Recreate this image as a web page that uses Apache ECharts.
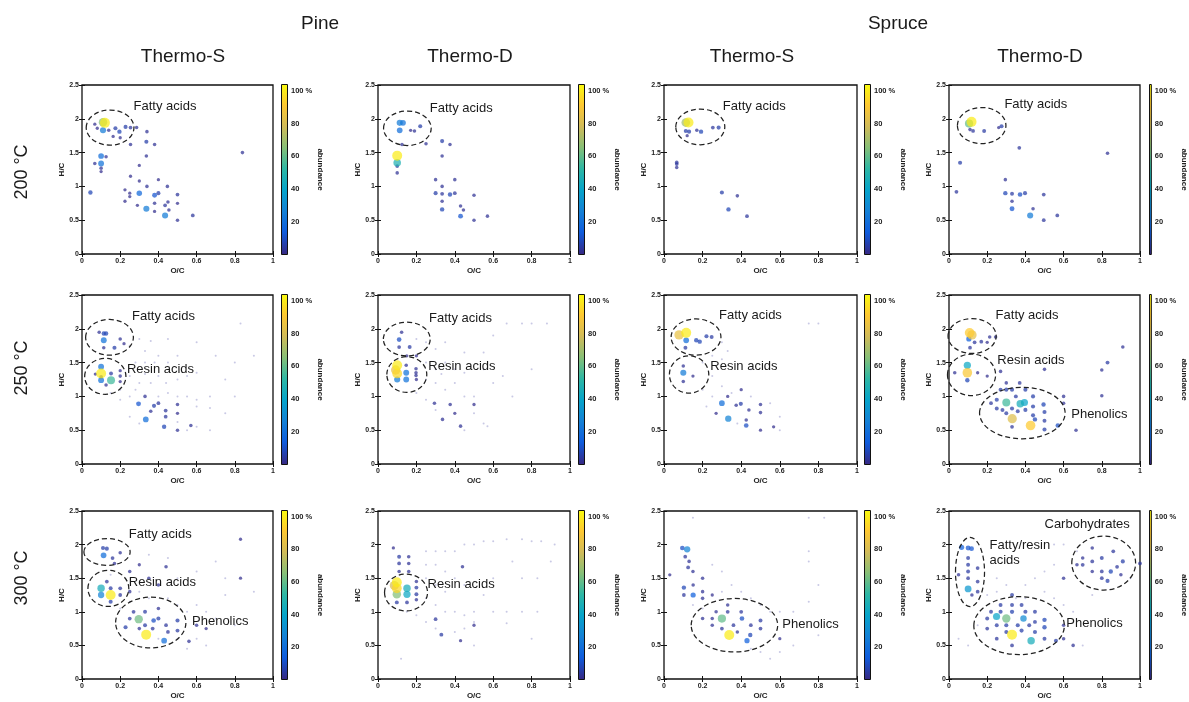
<!DOCTYPE html>
<html><head><meta charset="utf-8">
<script src="https://cdn.jsdelivr.net/npm/echarts@6/dist/echarts.min.js"></script>
<style>html,body{margin:0;padding:0;background:#fff}#c{width:1189px;height:702px}</style>
</head><body><div id="c"></div>
<script>
// ---------- labels ----------
const speciesNames = ['Pine', 'Spruce'];
const methodNames = ['Thermo-S', 'Thermo-D', 'Thermo-S', 'Thermo-D'];
const temperatureNames = ['200 °C', '250 °C', '300 °C'];
const colorbarTicks = [20, 40, 60, 80, 100];

// ---------- data: [O/C, H/C, abundance %] ----------
const pine200S = [[0.12,1.94,100],[0.11,1.95,65],[0.11,1.83,25],[0.175,1.86,6],[0.196,1.81,8],[0.228,1.88,6],[0.254,1.87,4],[0.286,1.87,3],[0.067,1.92,2],[0.08,1.86,2],[0.163,1.74,2],[0.14,1.83,3],[0.2,1.72,2],[0.34,1.81,3],[0.337,1.66,6],[0.38,1.62,3],[0.254,1.62,3],[0.337,1.45,3],[0.1,1.45,20],[0.1,1.34,22],[0.067,1.34,3],[0.126,1.44,3],[0.1,1.27,3],[0.1,1.22,2],[0.044,0.91,8],[0.254,1.15,2],[0.3,1.08,2],[0.3,1.31,2],[0.4,1.1,2],[0.3,0.9,18],[0.38,0.87,12],[0.4,0.9,6],[0.447,1.0,3],[0.34,1.0,3],[0.225,0.95,2],[0.25,0.9,2],[0.25,0.85,2],[0.5,0.88,4],[0.5,0.75,2],[0.5,0.5,3],[0.337,0.67,25],[0.38,0.75,3],[0.435,0.72,4],[0.45,0.77,3],[0.455,0.65,3],[0.435,0.57,25],[0.58,0.57,4],[0.84,1.5,3],[0.29,0.72,2],[0.225,0.78,2],[0.38,0.63,2]];
const pine200D = [[0.1,1.455,100],[0.1,1.35,48],[0.1,1.2,3],[0.1,1.3,4],[0.113,1.94,25],[0.13,1.94,22],[0.113,1.83,20],[0.22,1.89,6],[0.19,1.82,3],[0.17,1.83,2],[0.125,1.62,3],[0.25,1.63,3],[0.334,1.67,6],[0.375,1.62,3],[0.334,1.45,3],[0.3,1.1,3],[0.4,1.1,3],[0.334,1.0,3],[0.3,0.9,6],[0.334,0.89,4],[0.375,0.88,8],[0.4,0.9,4],[0.5,0.87,3],[0.334,0.78,3],[0.334,0.66,8],[0.43,0.71,3],[0.445,0.65,3],[0.43,0.56,12],[0.5,0.5,3],[0.57,0.56,3]];
const spruce200S = [[0.127,1.945,100],[0.113,1.945,70],[0.113,1.82,6],[0.13,1.81,6],[0.192,1.81,8],[0.17,1.83,3],[0.253,1.87,4],[0.283,1.87,6],[0.12,1.75,2],[0.066,1.355,4],[0.066,1.33,4],[0.066,1.28,3],[0.3,0.91,6],[0.38,0.86,3],[0.334,0.66,8],[0.43,0.56,4]];
const spruce200D = [[0.118,1.955,100],[0.105,1.93,60],[0.11,1.84,3],[0.126,1.82,4],[0.184,1.82,5],[0.275,1.89,6],[0.26,1.87,2],[0.058,1.35,6],[0.368,1.57,4],[0.039,0.92,4],[0.295,1.1,3],[0.295,0.9,8],[0.33,0.89,5],[0.372,0.88,10],[0.398,0.9,6],[0.496,0.88,4],[0.33,0.78,3],[0.33,0.67,12],[0.44,0.67,3],[0.425,0.57,25],[0.496,0.5,4],[0.567,0.57,4],[0.83,1.49,3]];

const pine250S = [[0.1,1.34,100],[0.152,1.24,55],[0.1,1.44,22],[0.1,1.24,22],[0.1,1.29,4],[0.152,1.34,5],[0.126,1.17,3],[0.07,1.33,2],[0.2,1.3,3],[0.2,1.22,2],[0.2,1.38,2],[0.114,1.83,22],[0.114,1.93,8],[0.126,1.93,8],[0.09,1.95,3],[0.17,1.72,6],[0.114,1.72,3],[0.2,1.85,3],[0.22,1.78,2],[0.296,0.89,12],[0.334,0.66,20],[0.377,0.86,6],[0.4,0.9,4],[0.438,0.79,4],[0.438,0.7,4],[0.43,0.55,8],[0.5,0.88,3],[0.5,0.75,2],[0.5,0.5,3],[0.57,0.57,3],[0.33,1.0,3],[0.36,0.78,3]];
const pine250STrace = [[0.25,1.75],[0.3,1.85],[0.33,1.67],[0.36,1.82],[0.4,1.6],[0.45,1.85],[0.28,1.5],[0.33,1.5],[0.38,1.5],[0.45,1.5],[0.5,1.6],[0.25,1.3],[0.3,1.2],[0.33,1.33],[0.36,1.2],[0.4,1.3],[0.44,1.2],[0.5,1.25],[0.55,1.3],[0.6,1.35],[0.25,1.0],[0.28,1.1],[0.4,1.0],[0.45,1.05],[0.5,1.0],[0.55,1.0],[0.6,0.95],[0.67,1.0],[0.6,0.85],[0.67,0.83],[0.25,0.7],[0.3,0.6],[0.5,0.62],[0.55,0.5],[0.6,0.55],[0.67,0.5],[0.75,0.75],[0.8,1.0],[0.8,1.5],[0.75,1.25],[0.83,2.08],[0.9,1.6],[0.7,1.6],[0.6,1.8],[0.2,1.1],[0.15,1.05],[0.2,0.95]];
const pine250D = [[0.1,1.46,100],[0.1,1.34,95],[0.092,1.39,85],[0.1,1.25,25],[0.147,1.35,22],[0.147,1.25,22],[0.11,1.84,10],[0.123,1.95,3],[0.11,1.73,4],[0.165,1.73,5],[0.198,1.41,3],[0.198,1.35,3],[0.198,1.31,3],[0.147,1.46,3],[0.2,1.25,2],[0.294,0.9,3],[0.376,0.88,3],[0.336,0.66,3],[0.43,0.56,3],[0.5,0.88,2],[0.15,1.6,2],[0.2,1.6,2],[0.4,0.75,2]];
const pine250DTrace = [[0.25,1.5],[0.3,1.4],[0.33,1.33],[0.4,1.4],[0.25,1.25],[0.3,1.2],[0.35,1.1],[0.4,1.2],[0.45,1.0],[0.5,1.0],[0.5,0.75],[0.55,0.6],[0.3,1.7],[0.35,1.8],[0.45,1.65],[0.55,1.65],[0.67,2.08],[0.75,2.08],[0.8,2.08],[0.88,2.08],[0.6,1.9],[0.8,1.4],[0.7,1.0],[0.6,1.2],[0.2,1.05],[0.25,0.95],[0.3,0.8],[0.45,0.5],[0.57,0.56],[0.2,1.85],[0.25,1.8],[0.35,1.5],[0.45,1.35],[0.55,1.4],[0.65,1.3]];
const spruce250S = [[0.115,1.94,100],[0.078,1.91,85],[0.115,1.83,20],[0.167,1.83,8],[0.185,1.81,8],[0.22,1.89,6],[0.247,1.88,5],[0.111,1.72,5],[0.1,1.35,25],[0.1,1.45,3],[0.1,1.22,3],[0.15,1.3,2],[0.3,0.9,20],[0.333,0.67,28],[0.374,0.87,3],[0.398,0.89,6],[0.426,0.65,3],[0.426,0.57,10],[0.5,0.88,3],[0.5,0.76,3],[0.568,0.55,2],[0.33,1.0,2],[0.44,0.8,3],[0.4,1.1,2],[0.5,0.5,2],[0.27,0.75,2]];
const spruce250STrace = [[0.25,1.3],[0.3,1.15],[0.35,1.05],[0.25,1.0],[0.2,1.1],[0.45,1.0],[0.55,0.9],[0.6,0.7],[0.22,0.85],[0.3,1.55],[0.33,1.67],[0.45,1.4],[0.75,2.08],[0.8,2.08],[0.3,1.8],[0.25,1.6],[0.2,1.5],[0.6,0.5],[0.38,0.6]];
const spruce250D = [[0.108,1.94,92],[0.12,1.91,85],[0.104,1.85,15],[0.134,1.8,4],[0.169,1.81,4],[0.213,1.88,3],[0.244,1.88,3],[0.11,1.72,4],[0.2,1.8,2],[0.096,1.46,42],[0.096,1.35,90],[0.096,1.24,8],[0.15,1.35,2],[0.2,1.3,2],[0.03,1.35,3],[0.3,0.91,55],[0.373,0.89,45],[0.395,0.91,40],[0.331,0.67,82],[0.427,0.57,92],[0.495,0.88,8],[0.5,0.77,6],[0.5,0.64,5],[0.5,0.51,6],[0.57,0.57,10],[0.25,0.95,6],[0.27,1.1,5],[0.3,1.1,6],[0.33,1.1,6],[0.4,1.1,6],[0.35,1.0,5],[0.44,1.0,6],[0.25,0.82,5],[0.28,0.8,5],[0.33,0.82,6],[0.36,0.78,5],[0.4,0.8,6],[0.44,0.85,6],[0.44,0.72,6],[0.45,0.66,8],[0.3,0.75,5],[0.22,0.9,4],[0.33,0.55,4],[0.37,1.2,4],[0.3,1.2,3],[0.6,1.0,3],[0.6,0.9,3],[0.83,1.5,5],[0.8,1.39,3],[0.8,1.01,3],[0.91,1.73,3],[0.665,0.5,3],[0.5,1.4,3],[0.27,1.37,3]];

const pine300S = [[0.15,1.25,100],[0.1,1.35,45],[0.1,1.25,28],[0.113,1.84,20],[0.11,1.95,6],[0.13,1.94,6],[0.16,1.8,4],[0.17,1.72,3],[0.2,1.88,3],[0.13,1.45,4],[0.15,1.35,5],[0.2,1.35,4],[0.2,1.25,4],[0.15,1.15,6],[0.25,1.3,3],[0.297,0.89,62],[0.336,0.66,100],[0.43,0.57,20],[0.375,0.87,10],[0.4,0.9,6],[0.228,0.77,6],[0.5,0.87,6],[0.5,0.72,5],[0.33,1.0,5],[0.27,1.0,4],[0.25,0.9,4],[0.33,0.8,5],[0.37,0.75,4],[0.44,0.8,4],[0.4,1.05,3],[0.45,0.7,4],[0.3,0.75,3],[0.44,1.67,3],[0.35,1.5,3],[0.4,1.4,3],[0.56,0.56,3],[0.6,0.8,3],[0.65,0.75,2],[0.83,1.5,2],[0.83,2.08,2],[0.25,1.6,3],[0.3,1.7,2]];
const pine300STrace = [[0.3,1.3],[0.35,1.2],[0.25,1.15],[0.45,1.2],[0.5,1.1],[0.55,1.0],[0.6,1.1],[0.65,1.0],[0.7,0.9],[0.6,0.6],[0.65,0.5],[0.75,1.25],[0.75,1.5],[0.7,1.75],[0.6,1.6],[0.5,1.5],[0.45,1.8],[0.35,1.85],[0.5,0.6],[0.55,0.45],[0.2,1.05],[0.15,1.55],[0.4,0.6],[0.8,0.8],[0.9,1.3]];
const pine300D = [[0.098,1.44,100],[0.098,1.35,95],[0.098,1.26,65],[0.085,1.39,80],[0.151,1.35,45],[0.151,1.26,42],[0.151,1.14,4],[0.098,1.14,5],[0.11,1.82,5],[0.11,1.72,4],[0.11,1.6,3],[0.16,1.82,3],[0.16,1.72,3],[0.16,1.6,3],[0.2,1.36,5],[0.2,1.26,5],[0.2,1.18,3],[0.2,1.45,3],[0.3,0.89,4],[0.33,0.66,5],[0.44,1.67,3],[0.08,1.95,2],[0.5,0.8,2],[0.43,0.57,2]];
const pine300DTrace = [[0.25,1.9],[0.3,1.9],[0.35,1.9],[0.4,1.9],[0.45,2.0],[0.5,2.0],[0.55,2.05],[0.6,2.05],[0.67,2.08],[0.75,2.08],[0.8,2.05],[0.85,2.05],[0.92,2.0],[0.25,1.7],[0.3,1.7],[0.35,1.6],[0.4,1.5],[0.25,1.5],[0.3,1.4],[0.35,1.3],[0.25,1.2],[0.3,1.1],[0.35,1.0],[0.4,1.0],[0.45,0.95],[0.5,1.0],[0.5,0.85],[0.45,0.75],[0.4,0.7],[0.3,0.75],[0.25,0.85],[0.2,0.95],[0.15,1.0],[0.6,1.5],[0.75,1.5],[0.83,1.5],[0.6,1.0],[0.67,1.0],[0.75,1.0],[0.83,1.0],[0.67,0.83],[0.8,0.6],[0.5,0.5],[0.55,1.25],[0.45,1.4],[0.7,1.75],[0.9,1.75],[0.12,0.3]];
const spruce300S = [[0.12,1.93,28],[0.095,1.95,10],[0.11,1.82,4],[0.13,1.75,3],[0.125,1.66,4],[0.15,1.6,3],[0.103,1.36,8],[0.103,1.25,4],[0.151,1.25,15],[0.151,1.4,3],[0.2,1.5,3],[0.2,1.3,3],[0.2,1.2,3],[0.25,1.25,2],[0.338,0.655,100],[0.3,0.9,60],[0.404,0.9,10],[0.447,0.655,8],[0.43,0.57,15],[0.5,0.87,5],[0.5,0.75,4],[0.33,1.0,4],[0.27,1.0,3],[0.25,0.9,3],[0.36,0.8,4],[0.3,0.75,4],[0.38,0.7,3],[0.45,0.8,4],[0.4,1.0,4],[0.25,0.8,3],[0.2,0.9,3],[0.33,1.1,3],[0.6,0.6,2],[0.03,1.55,2]];
const spruce300STrace = [[0.25,1.7],[0.3,1.6],[0.35,1.4],[0.4,1.3],[0.45,1.2],[0.5,1.1],[0.55,1.0],[0.6,1.0],[0.67,1.0],[0.75,1.15],[0.8,1.4],[0.75,1.75],[0.75,1.9],[0.6,0.4],[0.67,0.5],[0.8,0.65],[0.5,0.4],[0.45,0.45],[0.55,0.3],[0.75,2.4],[0.83,2.4],[0.15,2.4],[0.3,1.3],[0.2,1.05],[0.15,1.1]];
const spruce300D = [[0.33,0.66,100],[0.3,0.9,62],[0.249,0.93,40],[0.39,0.9,30],[0.43,0.57,45],[0.1,1.34,35],[0.066,1.96,15],[0.1,1.95,12],[0.118,1.94,12],[0.1,1.8,5],[0.1,1.7,5],[0.1,1.6,5],[0.1,1.5,4],[0.15,1.65,4],[0.15,1.45,4],[0.15,1.3,4],[0.12,1.25,3],[0.05,1.55,3],[0.5,0.88,8],[0.5,0.77,8],[0.5,0.6,5],[0.56,0.57,6],[0.33,1.25,5],[0.33,1.1,5],[0.33,1.0,7],[0.27,1.0,6],[0.4,1.0,6],[0.22,1.0,5],[0.45,1.0,5],[0.2,0.9,5],[0.25,0.8,5],[0.3,0.8,6],[0.36,0.8,6],[0.42,0.8,5],[0.3,0.7,5],[0.38,0.72,6],[0.45,0.7,6],[0.27,1.1,5],[0.38,1.1,5],[0.25,0.6,4],[0.2,0.75,4],[0.33,0.5,4],[0.45,0.85,5],[0.6,0.8,3],[0.6,0.6,3],[0.65,0.5,3],[0.847,1.6,8],[0.83,1.46,6],[0.91,1.75,6],[0.8,1.8,5],[0.75,1.75,4],[0.7,1.7,4],[0.86,1.9,4],[0.8,1.6,4],[0.75,1.6,3],[0.8,1.5,4],[0.88,1.67,4],[0.7,1.8,3],[0.67,1.7,3],[0.9,1.55,3],[0.75,1.95,3],[1.0,1.72,4],[0.6,1.5,3]];
const spruce300DTrace = [[0.25,1.5],[0.3,1.4],[0.4,1.4],[0.45,1.5],[0.5,1.3],[0.55,1.2],[0.6,1.1],[0.65,1.0],[0.5,1.6],[0.55,1.7],[0.2,1.25],[0.25,1.3],[0.15,0.8],[0.05,0.6],[0.1,0.5],[0.7,0.5],[0.55,2.0],[0.6,2.0],[0.67,1.9],[0.95,1.5],[0.75,1.25],[0.4,1.2],[0.35,1.2]];

// ---------- annotations: ellipses [cx, cy, rx, ry] and labels [x, y, text] ----------
const ell200 = [[[0.147,1.87,0.125,0.26]],[[0.153,1.86,0.124,0.255]],[[0.188,1.88,0.127,0.264]],[[0.171,1.90,0.127,0.267]]];
const lab200 = [[[0.27,2.18,'Fatty acids']],[[0.27,2.16,'Fatty acids']],[[0.305,2.19,'Fatty acids']],[[0.29,2.22,'Fatty acids']]];
const ell250 = [[[0.144,1.874,0.125,0.264],[0.122,1.296,0.108,0.266]],[[0.15,1.848,0.122,0.25],[0.15,1.323,0.104,0.264]],[[0.166,1.878,0.129,0.268],[0.13,1.324,0.102,0.276]],[[0.121,1.893,0.126,0.258],[0.118,1.319,0.126,0.307],[0.384,0.754,0.224,0.381]]];
const lab250 = [[[0.262,2.19,'Fatty acids'],[0.235,1.40,'Resin acids']],[[0.266,2.15,'Fatty acids'],[0.262,1.44,'Resin acids']],[[0.285,2.2,'Fatty acids'],[0.24,1.45,'Resin acids']],[[0.244,2.2,'Fatty acids'],[0.253,1.53,'Resin acids'],[0.64,0.74,'Phenolics']]];
const ell300 = [[[0.131,1.89,0.121,0.199],[0.138,1.348,0.107,0.269],[0.36,0.84,0.184,0.378]],[[0.146,1.287,0.112,0.274]],[[0.365,0.80,0.224,0.398]],[[0.11,1.593,0.076,0.515],[0.81,1.725,0.167,0.402],[0.367,0.794,0.237,0.431]]];
const lab300 = [[[0.245,2.15,'Fatty acids'],[0.245,1.44,'Resin acids'],[0.576,0.856,'Phenolics']],[[0.258,1.40,'Resin acids']],[[0.613,0.81,'Phenolics']],[[0.5,2.3,'Carbohydrates'],[0.212,1.995,'Fatty/resin'],[0.212,1.76,'acids'],[0.614,0.83,'Phenolics']]];

// ---------- layout & style ----------
const PARULA = ['#352a87','#0f5cdd','#1481d6','#06a4ca','#2eb7a4','#87bf77','#d1bb59','#fec832','#f9fb0e'];
const AB_MIN = 1, AB_MAX = 104;
const FONT = '"Liberation Sans", Arial, sans-serif';
const colLeft = [82, 378, 664, 949], colW = [191, 192, 193, 191], cbGap = [8, 8, 7, 9];
const rowTop = [85, 295, 511], rowH = [169, 169, 168];

const panels = [
  {main: pine200S, trace: [], ell: ell200[0], lab: lab200[0]},
  {main: pine200D, trace: [], ell: ell200[1], lab: lab200[1]},
  {main: spruce200S, trace: [], ell: ell200[2], lab: lab200[2]},
  {main: spruce200D, trace: [], ell: ell200[3], lab: lab200[3]},
  {main: pine250S, trace: pine250STrace, ell: ell250[0], lab: lab250[0]},
  {main: pine250D, trace: pine250DTrace, ell: ell250[1], lab: lab250[1]},
  {main: spruce250S, trace: spruce250STrace, ell: ell250[2], lab: lab250[2]},
  {main: spruce250D, trace: [], ell: ell250[3], lab: lab250[3]},
  {main: pine300S, trace: pine300STrace, ell: ell300[0], lab: lab300[0]},
  {main: pine300D, trace: pine300DTrace, ell: ell300[1], lab: lab300[1]},
  {main: spruce300S, trace: spruce300STrace, ell: ell300[2], lab: lab300[2]},
  {main: spruce300D, trace: spruce300DTrace, ell: ell300[3], lab: lab300[3]}
];

const gradStops = PARULA.map((c, i) => ({offset: (AB_MIN + i / (PARULA.length - 1) * (AB_MAX - AB_MIN)) / AB_MAX, color: c}));
gradStops.unshift({offset: 0, color: PARULA[0]});

const grids = [], xAxes = [], yAxes = [], series = [], mainIdx = [];
const tickStyle = {inside: true, length: 3, lineStyle: {color: '#111', width: 1}};
const lblStyle = {fontSize: 7, fontWeight: 'bold', color: '#222', fontFamily: FONT};
const cbLblStyle = {fontSize: 7.5, fontWeight: 'bold', color: '#222', fontFamily: FONT};

panels.forEach((p, i) => {
  const r = Math.floor(i / 4), c = i % 4;
  const g = grids.length;
  grids.push({left: colLeft[c], top: rowTop[r], width: colW[c], height: rowH[r], show: true,
    borderColor: '#111', borderWidth: 1.3, backgroundColor: '#fff'});
  const xb = xAxes.length, yb = yAxes.length;
  xAxes.push({gridIndex: g, type: 'value', min: 0, max: 1, interval: 0.2, position: 'bottom',
    name: 'O/C', nameLocation: 'middle', nameGap: 13,
    nameTextStyle: {fontSize: 8, fontWeight: 'bold', color: '#222', fontFamily: FONT},
    axisLine: {show: false}, axisTick: tickStyle,
    axisLabel: Object.assign({margin: 4, formatter: v => String(+(+v).toFixed(1))}, lblStyle),
    splitLine: {show: false}});
  xAxes.push({gridIndex: g, type: 'value', min: 0, max: 1, interval: 0.2, position: 'top',
    axisLine: {show: false}, axisTick: tickStyle, axisLabel: {show: false}, splitLine: {show: false}});
  yAxes.push({gridIndex: g, type: 'value', min: 0, max: 2.5, interval: 0.5, position: 'left',
    name: 'H/C', nameLocation: 'middle', nameGap: 15,
    nameTextStyle: {fontSize: 8, fontWeight: 'bold', color: '#222', fontFamily: FONT},
    axisLine: {show: false}, axisTick: tickStyle,
    axisLabel: Object.assign({margin: 3, formatter: v => String(+(+v).toFixed(1))}, lblStyle),
    splitLine: {show: false}});
  yAxes.push({gridIndex: g, type: 'value', min: 0, max: 2.5, interval: 0.5, position: 'right',
    axisLine: {show: false}, axisTick: tickStyle, axisLabel: {show: false}, splitLine: {show: false}});

  if (p.trace.length) {
    series.push({type: 'scatter', xAxisIndex: xb, yAxisIndex: yb, data: p.trace, symbolSize: 2,
      itemStyle: {color: '#9494cc', opacity: 0.5}, silent: true, z: 2});
  }
  mainIdx.push(series.length);
  series.push({type: 'scatter', xAxisIndex: xb, yAxisIndex: yb,
    data: p.main.slice().sort((a, b) => a[2] - b[2]),
    symbolSize: v => 2.2 + 7.8 * Math.sqrt(v[2] / 100),
    itemStyle: {opacity: 0.72}, silent: true, z: 3});
  series.push({type: 'custom', xAxisIndex: xb, yAxisIndex: yb, data: p.ell, silent: true, z: 5, clip: false,
    renderItem: (params, api) => {
      const ctr = api.coord([api.value(0), api.value(1)]);
      const sz = api.size([api.value(2), api.value(3)]);
      return {type: 'ellipse', shape: {cx: ctr[0], cy: ctr[1], rx: Math.abs(sz[0]), ry: Math.abs(sz[1])},
        style: {fill: 'none', stroke: '#222', lineWidth: 1.25, lineDash: [5, 3]}};
    }});
  const labs = p.lab;
  series.push({type: 'custom', xAxisIndex: xb, yAxisIndex: yb, data: labs.map(l => [l[0], l[1]]), silent: true, z: 6, clip: false,
    renderItem: (params, api) => {
      const pt = api.coord([api.value(0), api.value(1)]);
      return {type: 'text', x: pt[0], y: pt[1],
        style: {text: labs[params.dataIndex][2], fill: '#1a1a1a', fontSize: 13, fontFamily: FONT,
          align: 'left', verticalAlign: 'middle', textAlign: 'left', textVerticalAlign: 'middle'}};
    }});

  // colorbar
  const cg = grids.length;
  grids.push({left: colLeft[c] + colW[c] + cbGap[c], top: rowTop[r] - 1, width: 7, height: rowH[r] + 2, show: false});
  const cx = xAxes.length, cy = yAxes.length;
  xAxes.push({gridIndex: cg, type: 'category', data: ['c'], show: false});
  yAxes.push({gridIndex: cg, type: 'value', min: 0, max: AB_MAX, interval: 20, position: 'right',
    name: 'abundance', nameLocation: 'middle', nameGap: 27, nameRotate: -90,
    nameTextStyle: {fontSize: 8, fontWeight: 'bold', color: '#222', fontFamily: FONT},
    axisLine: {show: false}, axisTick: {inside: true, length: 2, lineStyle: {color: '#111'}},
    axisLabel: Object.assign({margin: 3, formatter: v => colorbarTicks.indexOf(v) < 0 ? '' : (v === 100 ? '100 %' : String(v))}, cbLblStyle),
    splitLine: {show: false}});
  series.push({type: 'bar', xAxisIndex: cx, yAxisIndex: cy, data: [AB_MAX], barWidth: '100%', silent: true, z: 1,
    itemStyle: {borderColor: '#111', borderWidth: 1,
      color: new echarts.graphic.LinearGradient(0, 1, 0, 0, gradStops)}});
});

const txt = (s, x, y, size, rot) => ({type: 'text', x: x, y: y, rotation: rot || 0,
  style: {text: s, fontSize: size, fill: '#1a1a1a', fontFamily: FONT,
    align: 'center', verticalAlign: 'middle', textAlign: 'center', textVerticalAlign: 'middle'}});
const graphics = [
  txt(speciesNames[0], 320, 24, 19), txt(speciesNames[1], 898, 24, 19),
  txt(methodNames[0], 183, 57, 19), txt(methodNames[1], 470, 57, 19),
  txt(methodNames[2], 752, 57, 19), txt(methodNames[3], 1040, 57, 19),
  txt(temperatureNames[0], 22, 172, 18, Math.PI / 2),
  txt(temperatureNames[1], 22, 368, 18, Math.PI / 2),
  txt(temperatureNames[2], 22, 578, 18, Math.PI / 2)
];

const chart = echarts.init(document.getElementById('c'), null, {renderer: 'canvas'});
chart.setOption({
  animation: false,
  backgroundColor: '#fff',
  grid: grids, xAxis: xAxes, yAxis: yAxes,
  visualMap: {type: 'continuous', show: false, min: AB_MIN, max: AB_MAX, dimension: 2,
    seriesIndex: mainIdx, inRange: {color: PARULA}},
  graphic: graphics,
  series: series
});
</script>
</body></html>
